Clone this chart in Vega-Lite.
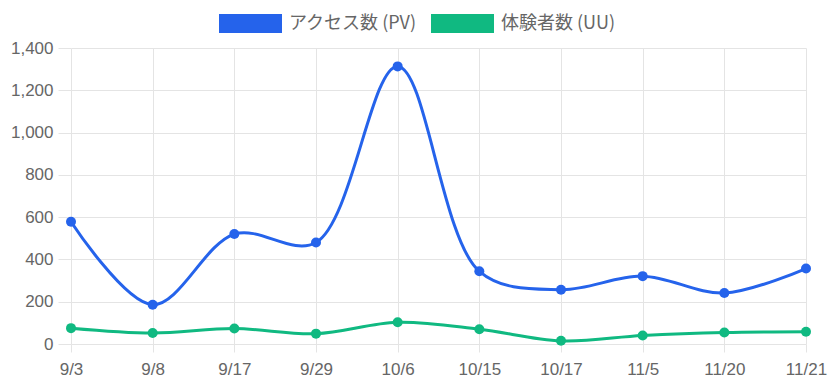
{
  "$schema": "https://vega.github.io/schema/vega-lite/v6.json",
  "width": 735,
  "height": 296,
  "autosize": {"type": "none"},
  "padding": {"left": 71, "top": 48, "right": 23, "bottom": 37},
  "background": "white",
  "config": {
    "view": {"stroke": null},
    "font": "Liberation Sans"
  },
  "data": {
    "values": [
      {"date": "9/3", "series": "アクセス数 (PV)", "value": 578},
      {"date": "9/8", "series": "アクセス数 (PV)", "value": 186},
      {"date": "9/17", "series": "アクセス数 (PV)", "value": 520},
      {"date": "9/29", "series": "アクセス数 (PV)", "value": 480},
      {"date": "10/6", "series": "アクセス数 (PV)", "value": 1313},
      {"date": "10/15", "series": "アクセス数 (PV)", "value": 344},
      {"date": "10/17", "series": "アクセス数 (PV)", "value": 257},
      {"date": "11/5", "series": "アクセス数 (PV)", "value": 321},
      {"date": "11/20", "series": "アクセス数 (PV)", "value": 241},
      {"date": "11/21", "series": "アクセス数 (PV)", "value": 357},
      {"date": "9/3", "series": "体験者数 (UU)", "value": 75},
      {"date": "9/8", "series": "体験者数 (UU)", "value": 52},
      {"date": "9/17", "series": "体験者数 (UU)", "value": 73},
      {"date": "9/29", "series": "体験者数 (UU)", "value": 49},
      {"date": "10/6", "series": "体験者数 (UU)", "value": 103},
      {"date": "10/15", "series": "体験者数 (UU)", "value": 70},
      {"date": "10/17", "series": "体験者数 (UU)", "value": 15},
      {"date": "11/5", "series": "体験者数 (UU)", "value": 40},
      {"date": "11/20", "series": "体験者数 (UU)", "value": 54},
      {"date": "11/21", "series": "体験者数 (UU)", "value": 58}
    ]
  },
  "encoding": {
    "x": {
      "field": "date",
      "type": "ordinal",
      "sort": null,
      "scale": {"type": "point", "padding": 0},
      "axis": {
        "title": null,
        "labelAngle": 0,
        "labelFontSize": 17,
        "labelColor": "#666666",
        "labelPadding": 9,
        "tickSize": 8,
        "tickColor": "#e4e4e4",
        "grid": true,
        "gridColor": "#e4e4e4",
        "domain": false
      }
    },
    "y": {
      "field": "value",
      "type": "quantitative",
      "scale": {"domain": [0, 1400], "nice": false},
      "axis": {
        "title": null,
        "values": [0, 200, 400, 600, 800, 1000, 1200, 1400],
        "format": ",d",
        "labelFontSize": 17,
        "labelColor": "#666666",
        "labelPadding": 5,
        "tickSize": 13,
        "tickColor": "#e4e4e4",
        "grid": true,
        "gridColor": "#e4e4e4",
        "domain": false
      }
    },
    "color": {
      "field": "series",
      "type": "nominal",
      "sort": null,
      "scale": {
        "domain": ["アクセス数 (PV)", "体験者数 (UU)"],
        "range": ["#2563eb", "#10b981"]
      },
      "legend": {
        "title": null,
        "orient": "none",
        "direction": "horizontal",
        "legendX": 148,
        "legendY": -56,
        "padding": 0,
        "symbolType": "M-1,-0.3L1,-0.3L1,0.3L-1,0.3Z",
        "symbolSize": 3969,
        "symbolStrokeWidth": 0,
        "symbolOpacity": 1,
        "labelFont": "Noto Sans CJK JP",
        "labelFontSize": 18,
        "labelColor": "#666666",
        "labelOffset": 7,
        "columnPadding": 14
      }
    }
  },
  "layer": [
    {
      "mark": {"type": "line", "interpolate": "catmull-rom", "strokeWidth": 3}
    },
    {
      "mark": {"type": "point", "filled": true, "size": 100, "opacity": 1}
    }
  ]
}
